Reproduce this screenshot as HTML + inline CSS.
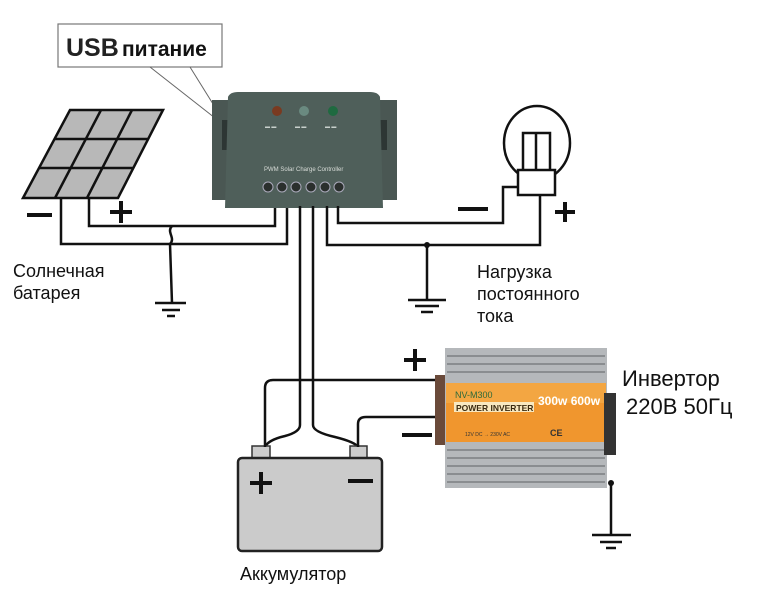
<!DOCTYPE html>
<html><head><meta charset="utf-8"><style>
html,body{margin:0;padding:0;background:#fff;}
svg{display:block;}
text{font-family:"Liberation Sans",sans-serif;}
</style></head><body>
<svg width="763" height="589" viewBox="0 0 763 589" xmlns="http://www.w3.org/2000/svg">
<rect width="763" height="589" fill="#fff"/>
<!-- USB callout -->
<rect x="58" y="24" width="164" height="43" fill="#fff" stroke="#777" stroke-width="1.2"/>
<text x="66" y="56" font-size="25" font-weight="bold" fill="#222">USB</text>
<text x="122" y="56" font-size="21" font-weight="bold" fill="#111">питание</text>
<line x1="150" y1="67" x2="215" y2="118" stroke="#666" stroke-width="1"/>
<line x1="190" y1="67" x2="218" y2="112" stroke="#666" stroke-width="1"/>
<!-- Solar panel -->
<polygon points="70,110 163,110 118,198 23,198" fill="#b8b8b8" stroke="#111" stroke-width="2.5"/>
<line x1="55" y1="139" x2="148" y2="139" stroke="#111" stroke-width="2.5"/>
<line x1="39" y1="168" x2="133" y2="168" stroke="#111" stroke-width="2.5"/>
<line x1="101" y1="110" x2="55" y2="198" stroke="#111" stroke-width="2.5"/>
<line x1="132" y1="110" x2="87" y2="198" stroke="#111" stroke-width="2.5"/>
<g stroke="#111" stroke-width="4" fill="none">
<line x1="27" y1="215" x2="52" y2="215"/>
<line x1="110" y1="212" x2="132" y2="212"/><line x1="121" y1="201" x2="121" y2="223"/>
</g>
<!-- panel wires -->
<g stroke="#111" stroke-width="2.5" fill="none">
<polyline points="61,198 61,244 287,244 287,206"/>
<polyline points="89,198 89,226 275,226 275,206"/>
<path d="M172,226 C166,232 176,238 170,244 L172,303"/>
<line x1="155" y1="303" x2="186" y2="303"/>
<line x1="162" y1="310" x2="180" y2="310"/>
<line x1="167" y1="316" x2="175" y2="316"/>
</g>
<text x="13" y="277" font-size="18" fill="#111">Солнечная</text>
<text x="13" y="299" font-size="18" fill="#111">батарея</text>
<!-- Controller -->
<rect x="212" y="100" width="20" height="100" fill="#4a5753"/>
<rect x="377" y="100" width="20" height="100" fill="#4a5753"/>
<rect x="222" y="120" width="10" height="30" fill="#2d3634"/>
<rect x="377" y="120" width="10" height="30" fill="#2d3634"/>
<path d="M228,97 Q230,92 238,92 L370,92 Q378,92 380,97 L383,208 L225,208 Z" fill="#4f5f5a"/>
<circle cx="277" cy="111" r="5" fill="#7a3a20"/>
<circle cx="304" cy="111" r="5" fill="#6a8a80"/>
<circle cx="333" cy="111" r="5" fill="#1f6a40"/>
<g fill="#c8d0cc" font-size="5"><text x="265" y="128">▬ ▬</text><text x="295" y="128">▬ ▬</text><text x="325" y="128">▬ ▬</text></g>
<text x="264" y="171" font-size="6" fill="#d8dcd8">PWM Solar Charge Controller</text>
<g fill="#2a2f2d" stroke="#aab" stroke-width="1">
<circle cx="268" cy="187" r="5"/><circle cx="282" cy="187" r="5"/><circle cx="296" cy="187" r="5"/>
<circle cx="311" cy="187" r="5"/><circle cx="325" cy="187" r="5"/><circle cx="339" cy="187" r="5"/>
</g>
<!-- battery wires -->
<g stroke="#111" stroke-width="2.5" fill="none">
<path d="M300,206 L300,425 Q300,432 285,436 Q268,440 265,447"/>
<path d="M313,206 L313,425 Q313,432 335,437 Q355,442 358,447"/>
<!-- load wires -->
<polyline points="338,206 338,223 503,223 503,187 518,187"/>
<polyline points="327,206 327,245 540,245 540,195"/>
<line x1="427" y1="245" x2="427" y2="300"/>
<line x1="408" y1="300" x2="446" y2="300"/>
<line x1="415" y1="306" x2="439" y2="306"/>
<line x1="421" y1="312" x2="433" y2="312"/>
</g>
<circle cx="427" cy="245" r="3" fill="#111"/>
<!-- lamp -->
<ellipse cx="537" cy="143" rx="33" ry="37" fill="#fff" stroke="#111" stroke-width="2.5"/>
<rect x="523" y="133" width="27" height="38" fill="#fff" stroke="#111" stroke-width="2.5"/>
<line x1="536" y1="133" x2="536" y2="171" stroke="#111" stroke-width="2.5"/>
<rect x="518" y="170" width="37" height="25" fill="#fff" stroke="#111" stroke-width="2.5"/>
<g stroke="#111" stroke-width="4">
<line x1="458" y1="209" x2="488" y2="209"/>
<line x1="555" y1="212" x2="575" y2="212"/><line x1="565" y1="202" x2="565" y2="222"/>
</g>
<text x="477" y="278" font-size="18" fill="#111">Нагрузка</text>
<text x="477" y="300" font-size="18" fill="#111">постоянного</text>
<text x="477" y="322" font-size="18" fill="#111">тока</text>
<!-- battery -->
<rect x="252" y="446" width="18" height="13" fill="#ccc" stroke="#333" stroke-width="1.5"/>
<rect x="350" y="446" width="17" height="13" fill="#ccc" stroke="#333" stroke-width="1.5"/>
<rect x="238" y="458" width="144" height="93" rx="4" fill="#cbcbcb" stroke="#222" stroke-width="2.5"/>
<g stroke="#111" stroke-width="4">
<line x1="250" y1="483" x2="272" y2="483"/><line x1="261" y1="472" x2="261" y2="494"/>
<line x1="348" y1="481" x2="373" y2="481"/>
</g>
<text x="240" y="580" font-size="18" fill="#111">Аккумулятор</text>
<!-- inverter wires -->
<g stroke="#111" stroke-width="2.5" fill="none">
<path d="M265,447 L265,388 Q265,380 273,380 L440,380"/>
<path d="M358,447 L358,424 Q358,417 366,417 L440,417"/>
</g>
<g stroke="#111" stroke-width="4">
<line x1="404" y1="360" x2="426" y2="360"/><line x1="415" y1="349" x2="415" y2="371"/>
<line x1="402" y1="435" x2="432" y2="435"/>
</g>
<!-- inverter -->
<rect x="435" y="375" width="12" height="70" fill="#6a4a3a"/>
<rect x="445" y="348" width="162" height="140" fill="#b5b8bb"/>
<g stroke="#8a8d90" stroke-width="2">
<line x1="447" y1="356" x2="605" y2="356"/><line x1="447" y1="364" x2="605" y2="364"/>
<line x1="447" y1="372" x2="605" y2="372"/><line x1="447" y1="450" x2="605" y2="450"/>
<line x1="447" y1="458" x2="605" y2="458"/><line x1="447" y1="466" x2="605" y2="466"/>
<line x1="447" y1="474" x2="605" y2="474"/><line x1="447" y1="482" x2="605" y2="482"/>
</g>
<rect x="446" y="383" width="160" height="59" fill="#f0962e"/>
<rect x="446" y="383" width="160" height="20" fill="#f5b050" opacity="0.6"/>
<text x="455" y="398" font-size="9" fill="#2c6a3a">NV-M300</text>
<rect x="454" y="402" width="80" height="10" fill="#f8e8c0"/>
<text x="456" y="411" font-size="8.5" font-weight="bold" fill="#3a2a10">POWER INVERTER</text>
<text x="538" y="405" font-size="12" font-weight="bold" fill="#fff">300w 600w</text>
<text x="550" y="436" font-size="9" font-weight="bold" fill="#333">CE</text>
<text x="465" y="436" font-size="5" fill="#333">12V DC → 230V AC</text>
<rect x="604" y="393" width="12" height="62" fill="#333"/>
<line x1="611" y1="482" x2="611" y2="535" stroke="#111" stroke-width="2.5"/>
<circle cx="611" cy="483" r="3" fill="#111"/>
<g stroke="#111" stroke-width="2.5">
<line x1="592" y1="535" x2="631" y2="535"/><line x1="600" y1="542" x2="622" y2="542"/><line x1="606" y1="548" x2="616" y2="548"/>
</g>
<text x="622" y="386" font-size="22" fill="#111">Инвертор</text>
<text x="626" y="414" font-size="22" fill="#111">220В 50Гц</text>
</svg>
</body></html>
